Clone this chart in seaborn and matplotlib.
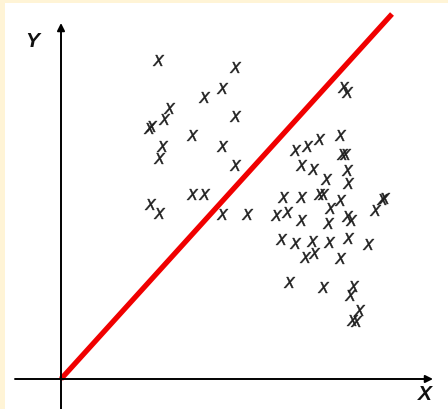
import seaborn as sns
import matplotlib.pyplot as plt
import pandas as pd
import numpy as np

# scatter points (left cluster above the line, right cluster below it)
left_x = [9.7, 17.4, 16.1, 14.3, 10.8, 10.3, 9.0, 8.8, 17.4, 13.1,
          10.1, 16.1, 9.8, 17.4, 13.1, 14.3, 8.9, 9.8, 16.1, 18.6]
left_y = [31.9, 31.2, 29.1, 28.2, 27.1, 26.0, 25.3, 25.1, 26.3, 24.4,
          23.3, 23.3, 22.1, 21.4, 18.5, 18.5, 17.5, 16.6, 16.5, 16.5]

right_x = [28.2, 28.6, 27.9, 25.8, 24.6, 23.4, 28.1, 28.4, 24.0, 25.2,
           28.6, 26.5, 28.7, 22.2, 24.0, 25.8, 26.2, 27.9, 32.1, 32.3,
           31.4, 26.9, 21.5, 22.6, 24.0, 26.7, 28.6, 29.0, 22.0, 23.4,
           25.1, 26.8, 28.7, 30.7, 24.4, 25.3, 27.9, 22.8, 26.2, 29.2,
           28.9, 29.8, 29.1, 29.5]
right_y = [29.2, 28.7, 24.4, 24.0, 23.3, 22.9, 22.5, 22.5, 21.4, 21.0,
           20.9, 20.0, 19.6, 18.2, 18.2, 18.5, 18.5, 17.9, 18.0, 18.1,
           16.9, 17.1, 16.4, 16.7, 15.9, 15.6, 16.3, 15.9, 14.0, 13.6,
           13.8, 13.7, 14.1, 13.5, 12.2, 12.6, 12.1, 9.7, 9.2, 9.3,
           8.4, 6.9, 5.9, 5.8]

# red separating line
line_x = [0, 33.1]
line_y = [0, 36.5]

df = pd.DataFrame({"x": left_x + right_x, "y": left_y + right_y})

sns.set_theme(style="white")
plt.rcParams['font.family'] = ['Liberation Sans', 'DejaVu Sans']

fig = plt.figure(figsize=(4.48, 4.09), dpi=100)
fig.patch.set_facecolor("#fff4d6")
ax = fig.add_axes([5 / 448, 0, 443 / 448, 406 / 409])
ax.set_facecolor("white")

sns.scatterplot(data=df, x="x", y="y", marker="$X$", s=64, color="#1e1e1e",
                edgecolor="#1e1e1e", linewidth=0.35, ax=ax)
sns.lineplot(x=line_x, y=line_y, color="#f00000", linewidth=3.8,
             solid_capstyle="butt", ax=ax)

# coordinate axes with arrow heads
ax.annotate("", xy=(37.2, 0), xytext=(-4.6, 0),
            arrowprops=dict(arrowstyle="-|>", color="black", lw=1.4,
                            mutation_scale=11, shrinkA=0, shrinkB=0))
ax.annotate("", xy=(0, 35.6), xytext=(0, -3.2),
            arrowprops=dict(arrowstyle="-|>", color="black", lw=1.4,
                            mutation_scale=11, shrinkA=0, shrinkB=0))

ax.text(-2.9, 33.8, "Y", fontsize=15, fontweight="bold", fontstyle="italic",
        ha="center", va="center", color="#111111")
ax.text(36.4, -1.6, "X", fontsize=15, fontweight="bold", fontstyle="italic",
        ha="center", va="center", color="#111111")

ax.set_xlim(-5.6, 38.7)
ax.set_ylim(-3.0, 37.6)
ax.set_xlabel("")
ax.set_ylabel("")
ax.set_xticks([])
ax.set_yticks([])
for spine in ax.spines.values():
    spine.set_visible(False)

fig.savefig("out.png", dpi=100, facecolor=fig.get_facecolor())
